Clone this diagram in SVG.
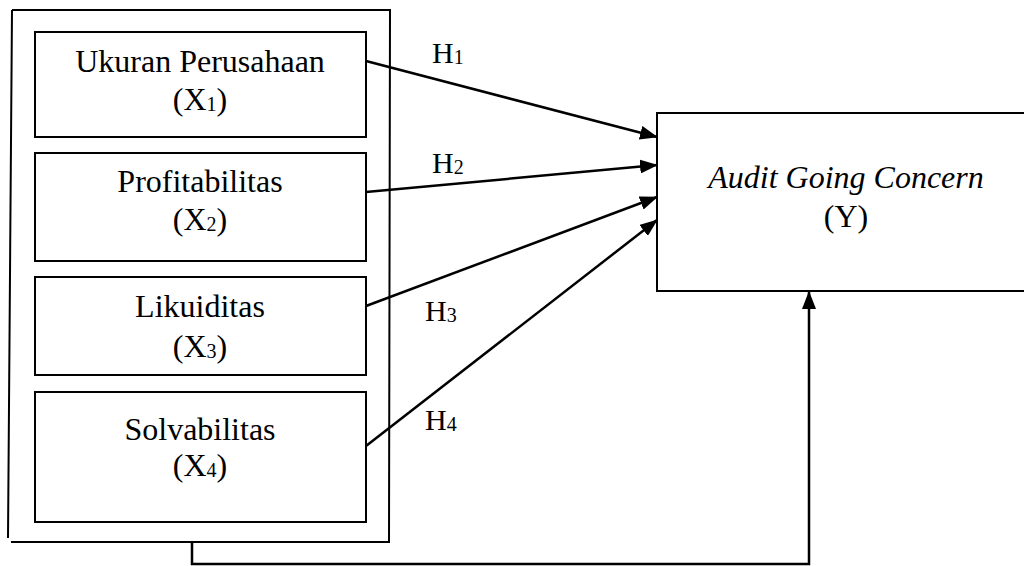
<svg xmlns="http://www.w3.org/2000/svg" width="1024" height="566" viewBox="0 0 1024 566">
<style>
.box{fill:#fff;stroke:#000;stroke-width:2}
.frame{fill:none;stroke:#000;stroke-width:2}
.t{font-family:"Liberation Serif","Times New Roman",serif;font-size:32px;fill:#000;text-anchor:middle}
.h{font-family:"Liberation Serif","Times New Roman",serif;font-size:30px;fill:#000}
.sub{font-size:20px}
.c{fill:none;stroke:#000;stroke-width:2.5}
</style>
<defs>
<marker id="arr" markerUnits="userSpaceOnUse" markerWidth="18" markerHeight="14" viewBox="0 0 18 14" refX="17" refY="7" orient="auto">
<path d="M0,0 L18,7 L0,14 Z" fill="#000"/>
</marker>
</defs>
<rect width="1024" height="566" fill="#fff"/>
<g id="frame">
<path class="frame" d="M12,10 H390 L389,542 M390,542 H11 M12,10 L8,538"/>
</g>
<g id="x1">
<rect class="box" x="35" y="32" width="331" height="105"/>
<text class="t" x="200" y="72">Ukuran Perusahaan</text>
<text class="t" x="200" y="110">(X<tspan class="sub" dy="1">1</tspan><tspan dy="-1">)</tspan></text>
</g>
<g id="x2">
<rect class="box" x="35" y="153" width="331" height="108"/>
<text class="t" x="200" y="192">Profitabilitas</text>
<text class="t" x="200" y="230">(X<tspan class="sub" dy="1">2</tspan><tspan dy="-1">)</tspan></text>
</g>
<g id="x3">
<rect class="box" x="35" y="277" width="331" height="98"/>
<text class="t" x="200" y="317">Likuiditas</text>
<text class="t" x="200" y="357">(X<tspan class="sub" dy="1">3</tspan><tspan dy="-1">)</tspan></text>
</g>
<g id="x4">
<rect class="box" x="35" y="392" width="331" height="130"/>
<text class="t" x="200" y="440">Solvabilitas</text>
<text class="t" x="200" y="476">(X<tspan class="sub" dy="1">4</tspan><tspan dy="-1">)</tspan></text>
</g>
<g id="y">
<rect class="box" x="657" y="113" width="400" height="178"/>
<text class="t" x="846" y="188" font-style="italic">Audit Going Concern</text>
<text class="t" x="846" y="227">(Y)</text>
</g>
<g id="connectors">
<line class="c" x1="366" y1="61" x2="657" y2="137" marker-end="url(#arr)"/>
<line class="c" x1="366" y1="192" x2="657" y2="165" marker-end="url(#arr)"/>
<line class="c" x1="366" y1="306" x2="657" y2="197" marker-end="url(#arr)"/>
<line class="c" x1="366" y1="446" x2="657" y2="220" marker-end="url(#arr)"/>
<path class="c" d="M192,542 V564 H809 V292" stroke-width="2" marker-end="url(#arr)"/>
</g>
<g id="labels">
<text class="h" x="432" y="63">H<tspan class="sub" dy="1">1</tspan></text>
<text class="h" x="432" y="173">H<tspan class="sub" dy="1">2</tspan></text>
<text class="h" x="425" y="321">H<tspan class="sub" dy="1">3</tspan></text>
<text class="h" x="425" y="430">H<tspan class="sub" dy="1">4</tspan></text>
</g>
</svg>
